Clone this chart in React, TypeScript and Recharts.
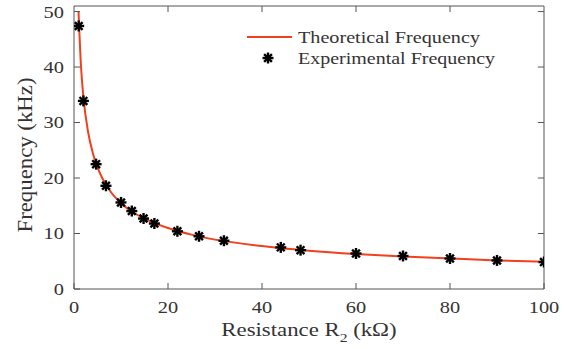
import {
  ComposedChart,
  Line,
  Scatter,
  XAxis,
  YAxis,
  ReferenceLine,
} from "recharts";

const resistance = [1, 2, 4.7, 6.8, 10, 12.3, 14.8, 17.1, 22, 26.6, 31.9, 44, 48.2, 60, 70, 80, 90, 100];
const experimental = [47.4, 33.9, 22.5, 18.6, 15.6, 14.05, 12.7, 11.8, 10.4, 9.5, 8.7, 7.5, 7.0, 6.4, 5.95, 5.5, 5.15, 4.85];

const theoryR = [0.96, 1.5, 2, 3, 4, 5, 6, 8, 10, 12, 15, 20, 25, 30, 40, 50, 60, 70, 80, 90, 100];
const theoryF = [50, 40, 34.6, 28.3, 24.5, 21.9, 20, 17.3, 15.5, 14.1, 12.7, 11, 9.8, 8.9, 7.75, 6.9, 6.3, 5.85, 5.5, 5.15, 4.9];

const xTicks = [0, 20, 40, 60, 80, 100];
const yTicks = [0, 10, 20, 30, 40, 50];

const theoryData = theoryR.map((r, i) => ({ r, f: theoryF[i] }));
const expData = resistance.map((r, i) => ({ r, f: experimental[i] }));

const X_MAX = 100;
const Y_MAX = 51;

const FONT = "'Liberation Serif', 'Times New Roman', serif";
const AXIS = "#555";
const TEXT = "#333";
const RED = "#f0401e";
const SX = 1.2;

function Star(props: any) {
  const { cx, cy } = props;
  if (cx == null || cy == null) return null;
  const r = 5.5;
  const lines = [0, 45, 90, 135].map((a) => {
    const rad = (a * Math.PI) / 180;
    return (
      <line
        key={a}
        x1={cx - r * Math.cos(rad)}
        y1={cy - r * Math.sin(rad)}
        x2={cx + r * Math.cos(rad)}
        y2={cy + r * Math.sin(rad)}
        stroke="#000"
        strokeWidth={2.4}
      />
    );
  });
  return <g>{lines}</g>;
}

function XTick(props: any) {
  const { x, y, payload } = props;
  return (
    <g transform={`translate(${x},${y}) scale(${SX},1)`}>
      <text x={0} y={0} dy="0.75em" textAnchor="middle" fontSize={17} fontFamily={FONT} fill={TEXT}>
        {payload.value}
      </text>
    </g>
  );
}

function YTick(props: any) {
  const { x, y, payload } = props;
  return (
    <g transform={`translate(${x},${y}) scale(${SX},1)`}>
      <text x={0} y={0} dy="0.35em" textAnchor="end" fontSize={17} fontFamily={FONT} fill={TEXT}>
        {payload.value}
      </text>
    </g>
  );
}

function Legend() {
  return (
    <svg
      width={280}
      height={50}
      style={{ position: "absolute", left: 230, top: 21, fontFamily: FONT }}
    >
      <line x1={17} y1={16} x2={62} y2={16} stroke={RED} strokeWidth={2} />
      <text x={68} y={16} dy="0.35em" fontSize={17} fill={TEXT} textLength={182} lengthAdjust="spacingAndGlyphs">
        Theoretical Frequency
      </text>
      <Star cx={38} cy={37} />
      <text x={68} y={37} dy="0.35em" fontSize={17} fill={TEXT} textLength={197} lengthAdjust="spacingAndGlyphs">
        Experimental Frequency
      </text>
    </svg>
  );
}

export default function App() {
  return (
    <div style={{ position: "absolute", left: 0, top: 0, width: 575, height: 349, background: "#fff" }}>
      <ComposedChart
        width={575}
        height={349}
        margin={{ top: 6, right: 31, bottom: 0, left: 0 }}
      >
        <XAxis
          dataKey="r"
          type="number"
          domain={[0, X_MAX]}
          ticks={xTicks}
          allowDataOverflow
          height={60}
          stroke={AXIS}
          tickSize={-6}
          tickMargin={17}
          tick={<XTick />}
          label={({ viewBox }: any) => (
            <g transform={`translate(${viewBox.x + viewBox.width / 2},336) scale(${SX},1)`}>
              <text x={0} y={0} textAnchor="middle" fontSize={19} fontFamily={FONT} fill={TEXT}>
                Resistance R
                <tspan fontSize={13} dy={6}>2</tspan>
                <tspan dy={-6}> (kΩ)</tspan>
              </text>
            </g>
          )}
        />
        <YAxis
          type="number"
          domain={[0, Y_MAX]}
          ticks={yTicks}
          allowDataOverflow
          width={74}
          stroke={AXIS}
          tickSize={-6}
          tickMargin={16}
          tick={<YTick />}
          label={() => (
            <g transform="translate(32,155) rotate(-90)">
              <text
                x={0}
                y={0}
                textAnchor="middle"
                fontSize={20}
                fontFamily={FONT}
                fill={TEXT}
                textLength={155}
                lengthAdjust="spacingAndGlyphs"
                transform="translate(-77.5,0)"
                style={{ textAnchor: "start" }}
              >
                Frequency (kHz)
              </text>
            </g>
          )}
        />
        {/* box: top and right edges with inward ticks */}
        <ReferenceLine y={Y_MAX} stroke={AXIS} strokeWidth={1} />
        <ReferenceLine x={X_MAX} stroke={AXIS} strokeWidth={1} />
        {xTicks.slice(1, -1).map((t) => (
          <ReferenceLine
            key={"tx" + t}
            segment={[{ x: t, y: Y_MAX }, { x: t, y: Y_MAX - 1.1 }]}
            stroke={AXIS}
          />
        ))}
        {yTicks.slice(1).map((t) => (
          <ReferenceLine
            key={"ty" + t}
            segment={[{ x: X_MAX, y: t }, { x: X_MAX - 1.3, y: t }]}
            stroke={AXIS}
          />
        ))}
        <Line
          data={theoryData}
          dataKey="f"
          type="monotone"
          stroke={RED}
          strokeWidth={2}
          dot={false}
          isAnimationActive={false}
        />
        <Scatter
          data={expData}
          dataKey="f"
          shape={<Star />}
          isAnimationActive={false}
        />
      </ComposedChart>
      <Legend />
    </div>
  );
}
